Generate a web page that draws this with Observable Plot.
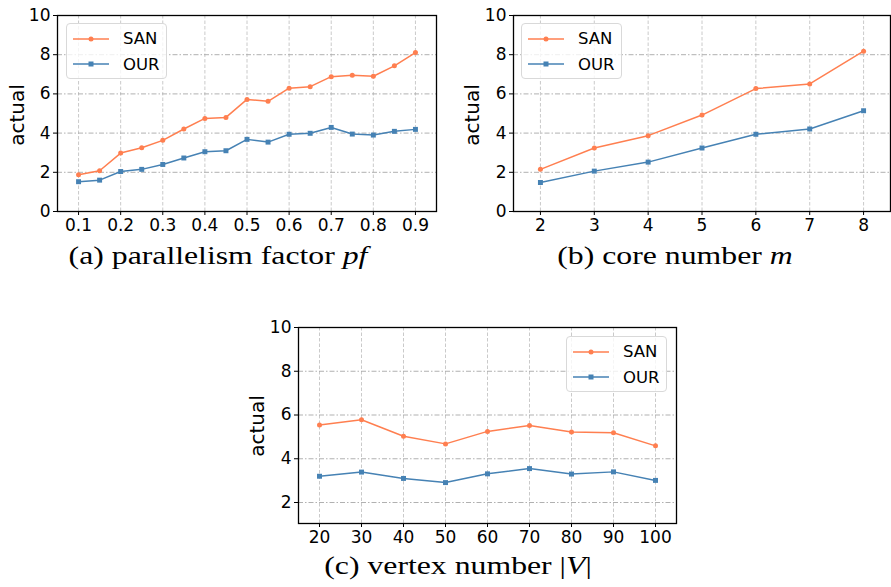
<!DOCTYPE html>
<html>
<head>
<meta charset="utf-8">
<script src="https://cdn.jsdelivr.net/npm/d3@7"></script>
<script src="https://cdn.jsdelivr.net/npm/@observablehq/plot@0.6"></script>
<style>
  body { margin: 0; background: #fff; }
  #root { position: relative; width: 891px; height: 587px; overflow: hidden; font-family: "DejaVu Sans", sans-serif; }
  .panel { position: absolute; }
  .ylab { position: absolute; font-family: "DejaVu Sans", sans-serif; font-size: 20px; transform: translate(-50%, -50%) rotate(-90deg); white-space: nowrap; }
  .cap { position: absolute; font-family: "Liberation Serif", "DejaVu Serif", serif; font-size: 25px; transform: translateX(-50%) scaleX(1.27); white-space: nowrap; }
  .legend { position: absolute; border: 1px solid #d9d9d9; border-radius: 4px; background: rgba(255,255,255,0.8); box-sizing: border-box; }
  .legrow { position: absolute; left: 0; display: flex; align-items: center; font-size: 16.5px; }
</style>
</head>
<body>
<div id="root"></div>
<script>
// ---- data ----
const pfValues = [0.1, 0.15, 0.2, 0.25, 0.3, 0.35, 0.4, 0.45, 0.5, 0.55, 0.6, 0.65, 0.7, 0.75, 0.8, 0.85, 0.9];
const pfSAN = [1.87, 2.08, 2.98, 3.25, 3.63, 4.21, 4.75, 4.80, 5.72, 5.62, 6.29, 6.37, 6.88, 6.95, 6.90, 7.43, 8.11];
const pfOUR = [1.52, 1.60, 2.04, 2.15, 2.40, 2.73, 3.05, 3.10, 3.68, 3.54, 3.94, 3.99, 4.29, 3.95, 3.90, 4.09, 4.19];
const pfTicks = [0.1, 0.2, 0.3, 0.4, 0.5, 0.6, 0.7, 0.8, 0.9];

const coreValues = [2, 3, 4, 5, 6, 7, 8];
const coreSAN = [2.15, 3.24, 3.87, 4.92, 6.27, 6.51, 8.18];
const coreOUR = [1.48, 2.06, 2.52, 3.24, 3.94, 4.21, 5.14];

const vertexValues = [20, 30, 40, 50, 60, 70, 80, 90, 100];
const vertexSAN = [5.54, 5.78, 5.03, 4.68, 5.25, 5.52, 5.22, 5.19, 4.59];
const vertexOUR = [3.20, 3.39, 3.10, 2.91, 3.31, 3.55, 3.30, 3.40, 3.01];

const seriesNames = ["SAN", "OUR"];
const yTicksAB = [0, 2, 4, 6, 8, 10];
const yTicksC = [2, 4, 6, 8, 10];
const yLabel = "actual";

// ---- styles ----
const colors = {SAN: "#ff7f50", OUR: "#4682b4"};
const gridXStyle = {stroke: "#c4c4c4", strokeOpacity: 1, strokeWidth: 0.9, strokeDasharray: "3.5,2"};
const gridYStyle = {stroke: "#a8a8a8", strokeOpacity: 1, strokeWidth: 0.9, strokeDasharray: "5,2,1.5,2"};
const axisFont = {fontFamily: "DejaVu Sans", fontSize: "17px", color: "black", overflow: "visible", background: "transparent"};

const root = document.getElementById("root");

function panel({xs, san, our, xDomain, xTicks, xFormat, yDomain, yTicks, left, top, width, height, margins}) {
  const rows = [];
  xs.forEach((x, i) => { rows.push({x, y: san[i], s: "SAN"}); });
  xs.forEach((x, i) => { rows.push({x, y: our[i], s: "OUR"}); });
  const sanRows = rows.filter(d => d.s === "SAN");
  const ourRows = rows.filter(d => d.s === "OUR");
  const chart = Plot.plot({
    width, height,
    marginLeft: margins[0], marginRight: margins[1], marginTop: margins[2], marginBottom: margins[3],
    style: axisFont,
    x: {domain: xDomain},
    y: {domain: yDomain},
    marks: [
      Plot.gridX(xTicks, gridXStyle),
      Plot.gridY(yTicks, gridYStyle),
      Plot.line(sanRows, {x: "x", y: "y", stroke: colors.SAN, strokeWidth: 1.5}),
      Plot.dot(sanRows, {x: "x", y: "y", fill: colors.SAN, r: 2.5, stroke: "none"}),
      Plot.line(ourRows, {x: "x", y: "y", stroke: colors.OUR, strokeWidth: 1.5}),
      Plot.dot(ourRows, {x: "x", y: "y", fill: colors.OUR, r: 2.8, symbol: "square", stroke: "none"}),
      Plot.axisX(xTicks, {tickFormat: xFormat, tickSize: 4, tickPadding: 3, label: null, stroke: "black", fill: "black", fontSize: 17}),
      Plot.axisY(yTicks, {tickSize: 4, tickPadding: 3, label: null, stroke: "black", fill: "black", fontSize: 17}),
      Plot.frame({stroke: "black", strokeWidth: 1.3})
    ]
  });
  const div = document.createElement("div");
  div.className = "panel";
  div.style.left = left + "px";
  div.style.top = top + "px";
  div.appendChild(chart);
  root.appendChild(div);
}

function legend({left, top, width, height, rowYs}) {
  const box = document.createElement("div");
  box.className = "legend";
  Object.assign(box.style, {left: left + "px", top: top + "px", width: width + "px", height: height + "px"});
  seriesNames.forEach((name, i) => {
    const row = document.createElement("div");
    row.className = "legrow";
    row.style.top = (rowYs[i] - 11) + "px";
    row.style.height = "22px";
    const c = colors[name];
    const marker = name === "SAN"
      ? `<circle cx="18" cy="11" r="2.5" fill="${c}"/>`
      : `<rect x="15.5" y="8.5" width="5" height="5" fill="${c}"/>`;
    row.innerHTML = `<svg width="50" height="22" style="display:block"><line x1="0" x2="36" y1="11" y2="11" stroke="${c}" stroke-width="1.5"/>${marker}</svg><span>${name}</span>`;
    row.firstChild.style.marginLeft = "6px";
    box.appendChild(row);
  });
  root.appendChild(box);
}

function text(cls, html, x, y) {
  const d = document.createElement("div");
  d.className = cls;
  d.innerHTML = html;
  d.style.left = x + "px";
  d.style.top = y + "px";
  root.appendChild(d);
}

// Panel (a)
panel({xs: pfValues, san: pfSAN, our: pfOUR, xDomain: [0.05, 0.95], xTicks: pfTicks, xFormat: d => d.toFixed(1),
  yDomain: [0, 10], yTicks: yTicksAB, left: 0, top: 0, width: 445, height: 240, margins: [57, 9, 15, 29]});
// Panel (b)
panel({xs: coreValues, san: coreSAN, our: coreOUR, xDomain: [1.5, 8.5], xTicks: coreValues, xFormat: d => String(d),
  yDomain: [0, 10], yTicks: yTicksAB, left: 456, top: 0, width: 435, height: 240, margins: [57, 1, 15, 29]});
// Panel (c)
panel({xs: vertexValues, san: vertexSAN, our: vertexOUR, xDomain: [15, 105], xTicks: vertexValues, xFormat: d => String(d),
  yDomain: [1.04, 10], yTicks: yTicksC, left: 240, top: 312, width: 440, height: 240, margins: [58, 4, 15, 29]});

legend({left: 66, top: 23, width: 101, height: 56, rowYs: [14.5, 40]});
legend({left: 521, top: 23, width: 101, height: 56, rowYs: [14.5, 40]});
legend({left: 566, top: 336, width: 101, height: 56, rowYs: [14.5, 40]});

text("ylab", yLabel, 17, 115);
text("ylab", yLabel, 472, 115);
text("ylab", yLabel, 257, 426);

text("cap", "(a) parallelism factor <i>pf</i>", 218, 242);
text("cap", "(b) core number <i>m</i>", 675, 242);
text("cap", "(c) vertex number |<i>V</i>|", 458, 552);
</script>
</body>
</html>
